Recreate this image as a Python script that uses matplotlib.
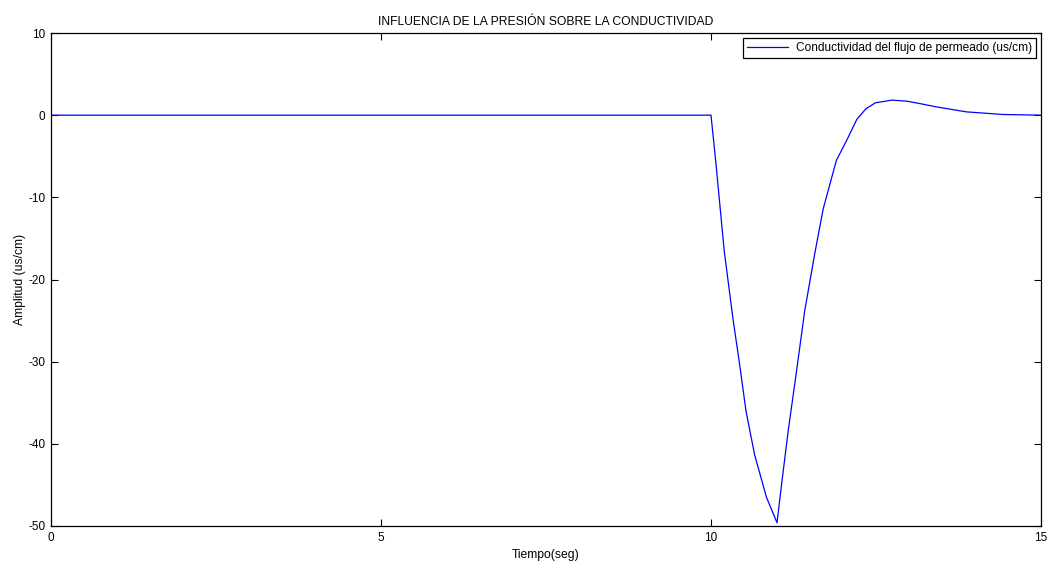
import matplotlib
matplotlib.use("Agg")
import matplotlib.pyplot as plt

t = [0, 10.0, 10.08, 10.2, 10.33, 10.44, 10.53, 10.66, 10.84, 11.0, 11.07, 11.17, 11.29,
     11.42, 11.58, 11.7, 11.9, 12.06, 12.21, 12.35, 12.49, 12.74, 12.97, 13.17, 13.42,
     13.87, 14.43, 15.0]
cond = [0, 0, -6.3, -16.5, -24.6, -30.7, -36.0, -41.3, -46.5, -49.6, -44.9, -38.4, -31.5,
        -23.8, -16.5, -11.4, -5.5, -3.0, -0.5, 0.8, 1.5, 1.83, 1.7, 1.4, 1.0,
        0.4, 0.08, 0.0]
xticks = [0, 5, 10, 15]
yticks = [-50, -40, -30, -20, -10, 0, 10]

plt.rcParams['font.family'] = ['Liberation Sans', 'DejaVu Sans']
plt.rcParams['axes.unicode_minus'] = False
fig = plt.figure(figsize=(10.55, 5.62), dpi=100)
ax = fig.add_axes([51/1055, 1-526/562, (1041-51)/1055, (526-33)/562])
ax.plot(t, cond, color='#0000ff', lw=0.9, label='Conductividad del flujo de permeado (us/cm)')
ax.set_xlim(0, 15)
ax.set_ylim(-50, 10)
ax.set_xticks(xticks)
ax.set_yticks(yticks)
ax.tick_params(direction='in', top=True, right=True, labelsize=8.5, length=5, width=0.8, pad=4)
for s in ax.spines.values():
    s.set_linewidth(0.9)
ax.set_title('INFLUENCIA DE LA PRESIÓN SOBRE LA CONDUCTIVIDAD', fontsize=8.7, pad=6)
ax.set_xlabel('Tiempo(seg)', fontsize=8.7, labelpad=4)
ax.set_ylabel('Amplitud (us/cm)', fontsize=8.7, labelpad=2)
leg = ax.legend(loc='upper right', fontsize=8.6, fancybox=False, framealpha=1,
                edgecolor='black', borderaxespad=0.4, handlelength=3.4, handletextpad=0.7,
                borderpad=0.35)
leg.get_frame().set_linewidth(0.9)
fig.savefig('out.png', dpi=100)
